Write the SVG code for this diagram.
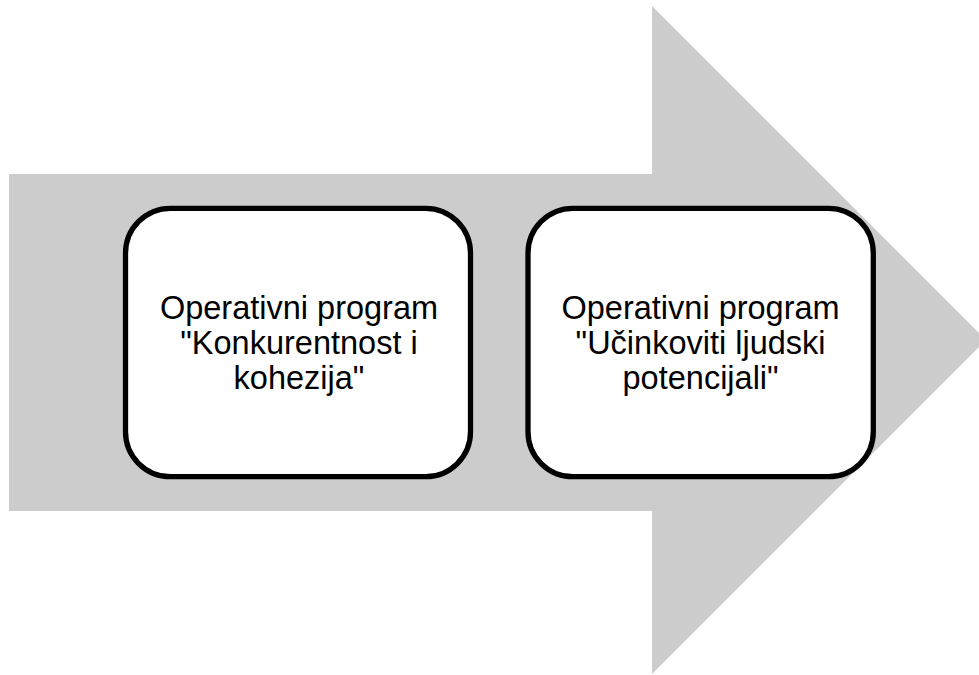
<svg xmlns="http://www.w3.org/2000/svg" width="979" height="675" viewBox="0 0 979 675">
<style>
.box{fill:#fff;stroke:#000;stroke-width:5.3}
.t{font-family:"Liberation Sans",Arial,sans-serif;font-size:32.5px;fill:#000;text-anchor:middle}
</style>
<rect width="979" height="675" fill="#fff"/>
<g id="arrow">
<polygon points="9,174 652,174 652,6 986,340 652,674 652,511 9,511" fill="#cccccc"/>
</g>
<g id="node1">
<rect class="box" x="125.5" y="208.3" width="345" height="268.4" rx="45" ry="45"/>
<text class="t" x="299" y="319">Operativni program</text>
<text class="t" x="299" y="354">"Konkurentnost i</text>
<text class="t" x="299" y="389">kohezija"</text>
</g>
<g id="node2">
<rect class="box" x="528" y="208.3" width="345.3" height="268.4" rx="45" ry="45"/>
<text class="t" x="700.6" y="319">Operativni program</text>
<text class="t" x="700.6" y="354">"Učinkoviti ljudski</text>
<text class="t" x="700.6" y="389">potencijali"</text>
</g>
<g id="connectors"></g>
</svg>
